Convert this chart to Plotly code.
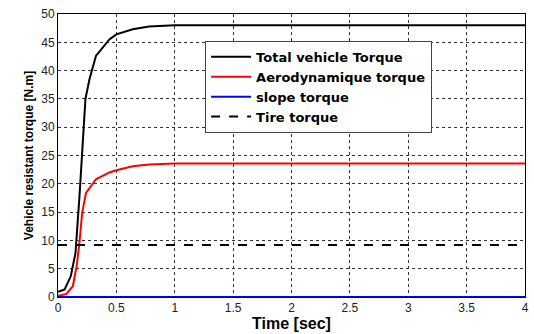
import plotly.graph_objects as go

# Data
t_total = [0, 0.057, 0.11, 0.15, 0.184, 0.207, 0.235, 0.27, 0.325, 0.44, 0.5, 0.64, 0.78, 1.0, 4.0]
total = [0.9, 1.35, 3.7, 7.8, 17.8, 26.0, 35.0, 38.5, 42.6, 45.5, 46.4, 47.3, 47.8, 48.0, 48.0]

t_aero = [0, 0.07, 0.127, 0.16, 0.184, 0.207, 0.24, 0.325, 0.44, 0.5, 0.64, 0.78, 1.0, 4.0]
aero = [0.2, 0.5, 1.9, 5.5, 9.6, 14.9, 18.4, 20.8, 22.0, 22.4, 23.1, 23.4, 23.6, 23.6]

t_flat = [0, 4]
slope = [0, 0]
tire = [9.2, 9.2]

x_ticks = [0, 0.5, 1, 1.5, 2, 2.5, 3, 3.5, 4]
y_ticks = [0, 5, 10, 15, 20, 25, 30, 35, 40, 45, 50]

fig = go.Figure()
fig.add_trace(go.Scatter(x=t_total, y=total, mode="lines", name="Total vehicle Torque",
                         line=dict(color="black", width=2)))
fig.add_trace(go.Scatter(x=t_aero, y=aero, mode="lines", name="Aerodynamique torque",
                         line=dict(color="red", width=2)))
fig.add_trace(go.Scatter(x=t_flat, y=slope, mode="lines", name="slope torque",
                         line=dict(color="blue", width=2)))
fig.add_trace(go.Scatter(x=t_flat, y=tire, mode="lines", name="Tire torque",
                         line=dict(color="black", width=2, dash="dash")))

axis_common = dict(showline=True, linecolor="black", linewidth=1, mirror=True,
                   showgrid=True, gridcolor="#333333", griddash="dot", gridwidth=1,
                   zeroline=False, ticks="",
                   tickfont=dict(family="Liberation Sans, Arial", size=12, color="#222222"))

fig.update_xaxes(range=[0, 4], tickvals=x_ticks,
                 title=dict(text="<b>Time [sec]</b>", font=dict(family="Liberation Sans, Arial", size=16, color="black"), standoff=2),
                 **axis_common)
fig.update_yaxes(range=[0, 50], tickvals=y_ticks,
                 title=dict(text="<b>Vehicle resistant torque [N.m]</b>", font=dict(family="Liberation Sans, Arial", size=12, color="black"), standoff=5),
                 **axis_common)

fig.update_layout(
    width=534, height=334,
    margin=dict(l=58, r=5, t=14, b=36),
    paper_bgcolor="white", plot_bgcolor="white",
    showlegend=True,
    legend=dict(x=0.315, y=0.905, xanchor="left", yanchor="top",
                bgcolor="white", bordercolor="#444444", borderwidth=1,
                font=dict(family="DejaVu Sans", size=13, color="black", weight="bold"),
                tracegroupgap=0, itemwidth=40),
)

fig.write_html("out.html")
